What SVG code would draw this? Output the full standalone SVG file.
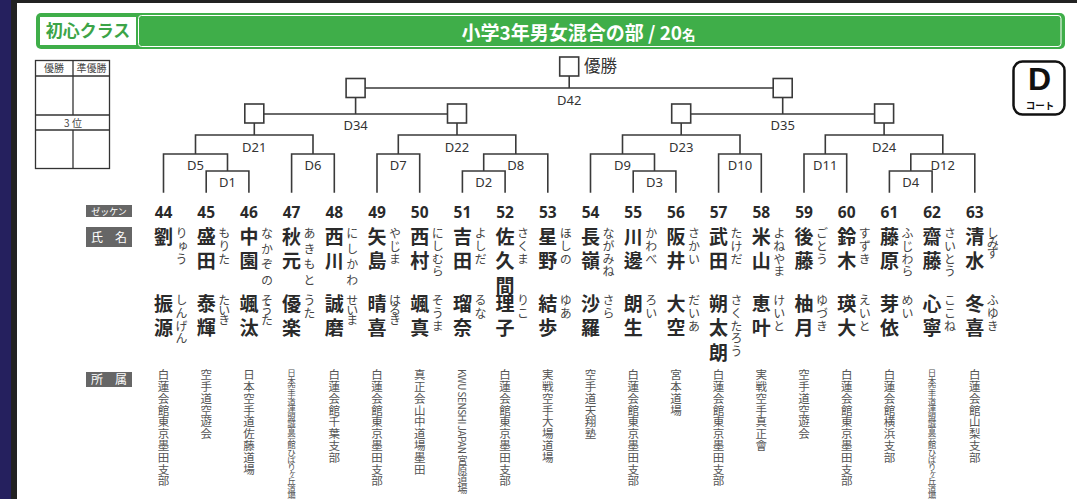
<svg xmlns="http://www.w3.org/2000/svg" width="1077" height="499" viewBox="0 0 1077 499">
<style>
.ln{stroke:#3a3a3a;stroke-width:1.6;fill:none}
.bx{fill:#fff;stroke:#3a3a3a;stroke-width:1.6}
.tb{stroke:#333;stroke-width:1.3;fill:none}
.lb{font-family:"Noto Sans","Noto Sans CJK JP",sans-serif;font-size:13px;fill:#333;text-anchor:middle}
.num{font-family:"Noto Sans","Noto Sans CJK JP",sans-serif;font-weight:bold;font-size:15.5px;fill:#2a2a2a;text-anchor:middle}
.nm{font-family:"Noto Sans CJK JP",sans-serif;font-weight:bold;font-size:19px;fill:#2a2a2a;writing-mode:vertical-rl;letter-spacing:5.5px}
.fu{font-family:"Noto Sans CJK JP",sans-serif;font-size:12px;fill:#444;writing-mode:vertical-rl;letter-spacing:0.8px}
.w{letter-spacing:3.5px}
.n{letter-spacing:-2px}
.af{font-family:"Noto Sans CJK JP",sans-serif;font-size:11.5px;fill:#555;writing-mode:vertical-rl;letter-spacing:0.3px}
.sm{font-size:8.5px;letter-spacing:-1.3px}
.kw{font-size:10px;letter-spacing:-0.5px}
.tag{fill:#666}
.tagt{font-family:"Noto Sans CJK JP",sans-serif;fill:#fff;text-anchor:middle}
.tt{font-family:"Noto Sans CJK JP",sans-serif;fill:#444;text-anchor:middle;font-size:10px}
</style>
<rect x="0" y="0" width="1077" height="499" fill="#fff"/>
<rect x="0" y="0" width="1077" height="3" fill="#222"/>
<rect x="0" y="0" width="11" height="499" fill="#25205e"/>
<rect x="11" y="0" width="6" height="499" fill="#222"/>

<g id="header">
<rect x="36" y="13" width="1029" height="36" rx="5" fill="#3fae49"/>
<rect x="40" y="17" width="96" height="28" fill="#fff"/>
<rect x="138.5" y="15.5" width="922.5" height="31" rx="3" fill="none" stroke="#fff" stroke-width="1"/>
<text x="88" y="36.5" font-family="'Noto Sans CJK JP',sans-serif" font-weight="bold" font-size="17" fill="#3ca447" text-anchor="middle">初心クラス</text>
<text x="578.5" y="39.5" font-family="'Noto Sans CJK JP',sans-serif" font-weight="bold" font-size="19" fill="#fff" text-anchor="middle">小学3年男女混合の部 / 20<tspan font-size="13.5">名</tspan></text>
</g>

<g id="result-table">
<rect class="tb" x="35.5" y="60.5" width="74" height="108"/>
<path class="tb" d="M35.5 76H109.5M35.5 115H109.5M35.5 130H109.5M73 60.5V115M73 130V168.5"/>
<text class="tt" x="54" y="72">優勝</text>
<text class="tt" x="91.5" y="72">準優勝</text>
<text class="tt" x="73" y="126.5" font-size="11">3 位</text>
</g>

<g id="court">
<rect x="1013.5" y="61.5" width="51" height="53" rx="9" fill="#fff" stroke="#111" stroke-width="2.5"/>
<text x="1039.5" y="90" font-family="'Liberation Sans',sans-serif" font-weight="bold" font-size="32" fill="#111" text-anchor="middle">D</text>
<text x="1040" y="108.5" font-family="'Noto Sans CJK JP',sans-serif" font-weight="bold" font-size="9.5" fill="#111" text-anchor="middle">コート</text>
</g>

<g id="connectors">
<path class="ln" d="M206.2 192.7V171H248.9V192.7"/>
<path class="ln" d="M163.5 192.7V154H227.5V171"/>
<path class="ln" d="M291.6 192.7V154H334.3V192.7"/>
<path class="ln" d="M195.5 154V135H313V154M254.3 135V123"/>
<path class="ln" d="M377 192.7V154H419.7V192.7"/>
<path class="ln" d="M462.4 192.7V171H505.1V192.7"/>
<path class="ln" d="M483.7 171V154H547.8V192.7"/>
<path class="ln" d="M398.3 154V135H515.8V154M457 135V123"/>
<path class="ln" d="M254.3 114H457M355.6 114V97"/>
<path class="ln" d="M633.2 192.7V171H675.9V192.7"/>
<path class="ln" d="M590.5 192.7V154H654.5V171"/>
<path class="ln" d="M718.6 192.7V154H761.3V192.7"/>
<path class="ln" d="M622.5 154V135H740V154M681.2 135V123"/>
<path class="ln" d="M804 192.7V154H846.7V192.7"/>
<path class="ln" d="M889.4 192.7V171H932.1V192.7"/>
<path class="ln" d="M910.8 171V154H974.8V192.7"/>
<path class="ln" d="M825.3 154V135H942.8V154M884.1 135V123"/>
<path class="ln" d="M681.2 114H884.1M782.7 114V97"/>
<path class="ln" d="M355.6 88H782.7M569.2 88V75.7"/>
</g>

<g id="D1"><text class="lb" x="227.5" y="187">D1</text></g>
<g id="D2"><text class="lb" x="483.7" y="187">D2</text></g>
<g id="D3"><text class="lb" x="654.5" y="187">D3</text></g>
<g id="D4"><text class="lb" x="910.8" y="187">D4</text></g>
<g id="D5"><text class="lb" x="195.5" y="169.5">D5</text></g>
<g id="D6"><text class="lb" x="313" y="169.5">D6</text></g>
<g id="D7"><text class="lb" x="398.3" y="169.5">D7</text></g>
<g id="D8"><text class="lb" x="515.8" y="169.5">D8</text></g>
<g id="D9"><text class="lb" x="622.5" y="169.5">D9</text></g>
<g id="D10"><text class="lb" x="740" y="169.5">D10</text></g>
<g id="D11"><text class="lb" x="825.3" y="169.5">D11</text></g>
<g id="D12"><text class="lb" x="942.8" y="169.5">D12</text></g>
<g id="D21"><rect class="bx" x="244.8" y="104" width="19" height="19"/><text class="lb" x="254.3" y="151.5">D21</text></g>
<g id="D22"><rect class="bx" x="447.5" y="104" width="19" height="19"/><text class="lb" x="457" y="151.5">D22</text></g>
<g id="D23"><rect class="bx" x="671.7" y="104" width="19" height="19"/><text class="lb" x="681.2" y="151.5">D23</text></g>
<g id="D24"><rect class="bx" x="874.6" y="104" width="19" height="19"/><text class="lb" x="884.1" y="151.5">D24</text></g>
<g id="D34"><rect class="bx" x="346.1" y="78.5" width="19" height="19"/><text class="lb" x="355.6" y="130">D34</text></g>
<g id="D35"><rect class="bx" x="773.2" y="78.5" width="19" height="19"/><text class="lb" x="782.7" y="130">D35</text></g>
<g id="D42"><rect class="bx" x="559.7" y="57" width="19" height="19"/><text class="lb" x="569.2" y="105">D42</text>
<text x="584" y="72" font-family="'Noto Sans CJK JP',sans-serif" font-size="16.5" fill="#333">優勝</text></g>

<g id="row-labels">
<rect class="tag" x="86" y="205" width="46" height="12"/>
<text class="tagt" x="109" y="214.5" font-size="9">ゼッケン</text>
<rect class="tag" x="86" y="227" width="46" height="20"/>
<text class="tagt" x="109" y="241.5" font-size="12">氏　名</text>
<rect class="tag" x="86" y="372" width="46" height="15"/>
<text class="tagt" x="109" y="384" font-size="12">所　属</text>
</g>

<g id="p44"><text class="num" x="163.5" y="218">44</text><text class="nm" x="163.5" y="227">劉</text><text class="fu" x="181.5" y="227.5">りゅう</text><text class="nm" x="163.5" y="294">振源</text><text class="fu" x="181.5" y="294.5">しんげん</text><text class="af" x="163.5" y="369">白蓮会館東京墨田支部</text></g>
<g id="p45"><text class="num" x="206.2" y="218">45</text><text class="nm" x="206.2" y="227">盛田</text><text class="fu" x="224.2" y="227.5">もりた</text><text class="nm" x="206.2" y="294">泰輝</text><text class="fu n" x="224.2" y="294.5">たいき</text><text class="af" x="206.2" y="369">空手道空遊会</text></g>
<g id="p46"><text class="num" x="248.9" y="218">46</text><text class="nm" x="248.9" y="227">中園</text><text class="fu w" x="266.9" y="227.5">なかぞの</text><text class="nm" x="248.9" y="294">颯汰</text><text class="fu n" x="266.9" y="294.5">そうた</text><text class="af" x="248.9" y="369">日本空手道佐藤道場</text></g>
<g id="p47"><text class="num" x="291.6" y="218">47</text><text class="nm" x="291.6" y="227">秋元</text><text class="fu w" x="309.6" y="227.5">あきもと</text><text class="nm" x="291.6" y="294">優楽</text><text class="fu" x="309.6" y="294.5">うた</text><text class="af sm" x="291.6" y="369">日本空手道連盟誠真会館ひばりヶ丘道場</text></g>
<g id="p48"><text class="num" x="334.3" y="218">48</text><text class="nm" x="334.3" y="227">西川</text><text class="fu w" x="352.3" y="227.5">にしかわ</text><text class="nm" x="334.3" y="294">誠磨</text><text class="fu n" x="352.3" y="294.5">せいま</text><text class="af" x="334.3" y="369">白蓮会館千葉支部</text></g>
<g id="p49"><text class="num" x="377" y="218">49</text><text class="nm" x="377" y="227">矢島</text><text class="fu" x="395" y="227.5">やじま</text><text class="nm" x="377" y="294">晴喜</text><text class="fu n" x="395" y="294.5">はるき</text><text class="af" x="377" y="369">白蓮会館東京墨田支部</text></g>
<g id="p50"><text class="num" x="419.7" y="218">50</text><text class="nm" x="419.7" y="227">西村</text><text class="fu" x="437.7" y="227.5">にしむら</text><text class="nm" x="419.7" y="294">颯真</text><text class="fu" x="437.7" y="294.5">そうま</text><text class="af" x="419.7" y="369">真正会山中道場墨田</text></g>
<g id="p51"><text class="num" x="462.4" y="218">51</text><text class="nm" x="462.4" y="227">吉田</text><text class="fu" x="480.4" y="227.5">よしだ</text><text class="nm" x="462.4" y="294">瑠奈</text><text class="fu" x="480.4" y="294.5">るな</text><text class="af kw" x="462.4" y="369">KWU SENSHI JAPAN 宮原道場</text></g>
<g id="p52"><text class="num" x="505.1" y="218">52</text><text class="nm" x="505.1" y="227">佐久間</text><text class="fu" x="523.1" y="227.5">さくま</text><text class="nm" x="505.1" y="294">理子</text><text class="fu" x="523.1" y="294.5">りこ</text><text class="af" x="505.1" y="369">白蓮会館東京墨田支部</text></g>
<g id="p53"><text class="num" x="547.8" y="218">53</text><text class="nm" x="547.8" y="227">星野</text><text class="fu" x="565.8" y="227.5">ほしの</text><text class="nm" x="547.8" y="294">結歩</text><text class="fu" x="565.8" y="294.5">ゆあ</text><text class="af" x="547.8" y="369">実戦空手大場道場</text></g>
<g id="p54"><text class="num" x="590.5" y="218">54</text><text class="nm" x="590.5" y="227">長嶺</text><text class="fu" x="608.5" y="227.5">ながみね</text><text class="nm" x="590.5" y="294">沙羅</text><text class="fu" x="608.5" y="294.5">さら</text><text class="af" x="590.5" y="369">空手道天翔塾</text></g>
<g id="p55"><text class="num" x="633.2" y="218">55</text><text class="nm" x="633.2" y="227">川邊</text><text class="fu" x="651.2" y="227.5">かわべ</text><text class="nm" x="633.2" y="294">朗生</text><text class="fu" x="651.2" y="294.5">ろい</text><text class="af" x="633.2" y="369">白蓮会館東京墨田支部</text></g>
<g id="p56"><text class="num" x="675.9" y="218">56</text><text class="nm" x="675.9" y="227">阪井</text><text class="fu" x="693.9" y="227.5">さかい</text><text class="nm" x="675.9" y="294">大空</text><text class="fu" x="693.9" y="294.5">だいあ</text><text class="af" x="675.9" y="369">宮本道場</text></g>
<g id="p57"><text class="num" x="718.6" y="218">57</text><text class="nm" x="718.6" y="227">武田</text><text class="fu" x="736.6" y="227.5">たけだ</text><text class="nm" x="718.6" y="294">朔太朗</text><text class="fu" x="736.6" y="294.5">さくたろう</text><text class="af" x="718.6" y="369">白蓮会館東京墨田支部</text></g>
<g id="p58"><text class="num" x="761.3" y="218">58</text><text class="nm" x="761.3" y="227">米山</text><text class="fu" x="779.3" y="227.5">よねやま</text><text class="nm" x="761.3" y="294">恵叶</text><text class="fu" x="779.3" y="294.5">けいと</text><text class="af" x="761.3" y="369">実戦空手真正會</text></g>
<g id="p59"><text class="num" x="804" y="218">59</text><text class="nm" x="804" y="227">後藤</text><text class="fu" x="822" y="227.5">ごとう</text><text class="nm" x="804" y="294">柚月</text><text class="fu" x="822" y="294.5">ゆづき</text><text class="af" x="804" y="369">空手道空遊会</text></g>
<g id="p60"><text class="num" x="846.7" y="218">60</text><text class="nm" x="846.7" y="227">鈴木</text><text class="fu" x="864.7" y="227.5">すずき</text><text class="nm" x="846.7" y="294">瑛大</text><text class="fu" x="864.7" y="294.5">えいと</text><text class="af" x="846.7" y="369">白蓮会館東京墨田支部</text></g>
<g id="p61"><text class="num" x="889.4" y="218">61</text><text class="nm" x="889.4" y="227">藤原</text><text class="fu" x="907.4" y="227.5">ふじわら</text><text class="nm" x="889.4" y="294">芽依</text><text class="fu" x="907.4" y="294.5">めい</text><text class="af" x="889.4" y="369">白蓮会館横浜支部</text></g>
<g id="p62"><text class="num" x="932.1" y="218">62</text><text class="nm" x="932.1" y="227">齋藤</text><text class="fu" x="950.1" y="227.5">さいとう</text><text class="nm" x="932.1" y="294">心寧</text><text class="fu" x="950.1" y="294.5">ここね</text><text class="af sm" x="932.1" y="369">日本空手道連盟誠真会館ひばりヶ丘道場</text></g>
<g id="p63"><text class="num" x="974.8" y="218">63</text><text class="nm" x="974.8" y="227">清水</text><text class="fu n" x="992.8" y="227.5">しみず</text><text class="nm" x="974.8" y="294">冬喜</text><text class="fu" x="992.8" y="294.5">ふゆき</text><text class="af" x="974.8" y="369">白蓮会館山梨支部</text></g>
</svg>
